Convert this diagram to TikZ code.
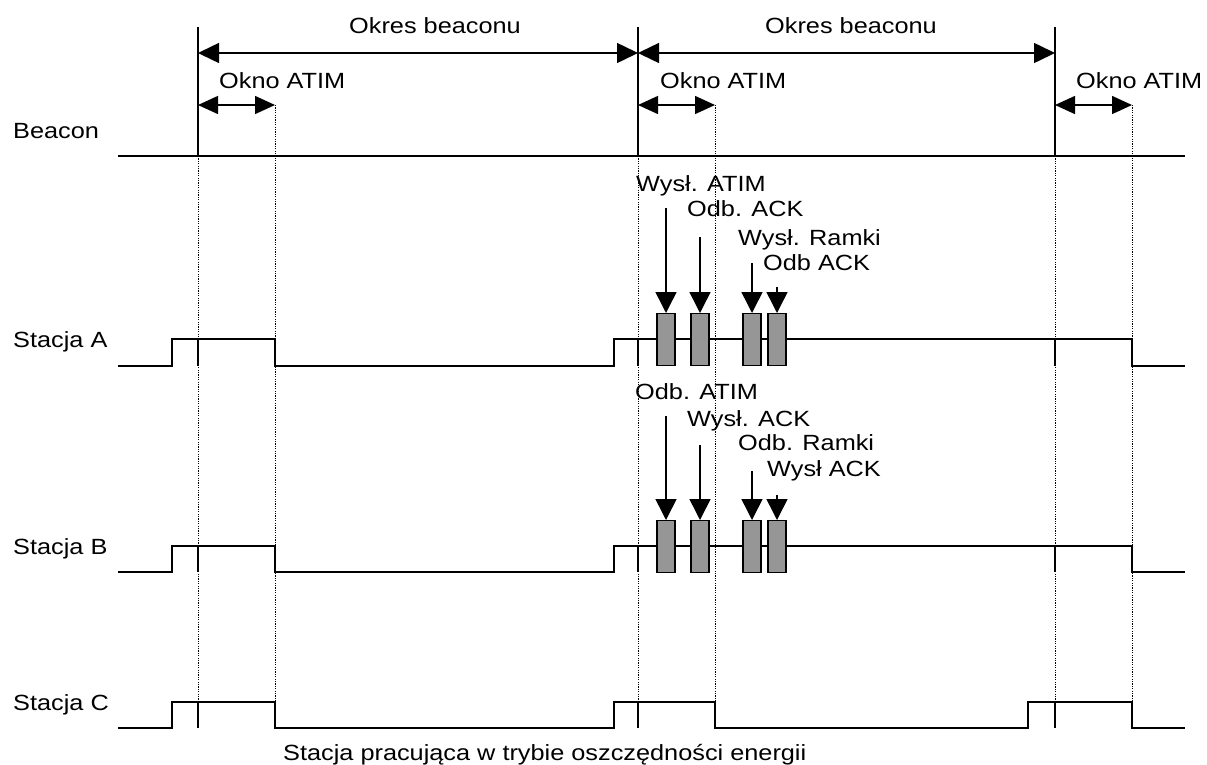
\documentclass[tikz,border=0pt]{standalone}
\usepackage{fontspec}
\setmainfont{Liberation Sans}[FakeStretch=1.15]
\usetikzlibrary{arrows.meta}
\definecolor{framegray}{RGB}{150,150,150}

\begin{document}
\begin{tikzpicture}[x=1pt, y=-1pt, font=\fontsize{22}{26}\selectfont]
        \tikzset{
            signal/.style={draw=black, line width=1.6pt},
            guide/.style={draw=black, line width=1pt, dash pattern=on 1.2pt off 1.2pt},
            beacontick/.style={draw=black, line width=2.2pt},
            period/.style={line width=1.5pt, {Triangle[length=21pt,width=20pt]}-{Triangle[length=21pt,width=20pt]}},
            atimwin/.style={line width=1.5pt, {Triangle[length=20pt,width=18pt]}-{Triangle[length=20pt,width=18pt]}},
            framebox/.style={draw=black, fill=framegray, line width=1.3pt, minimum width=18pt, minimum height=52pt, inner sep=0pt, anchor=north},
            framearrow/.style={line width=1.5pt, -{Triangle[length=21pt,width=21pt]}},
            labeltext/.style={anchor=base west, inner sep=0pt}
        }
        \useasboundingbox (0,0) rectangle (1207,764);

        % okresy beaconu
        \foreach \bx in {198,638,1055}
            \draw[signal] (\bx,27) -- (\bx,156);
        \draw[signal] (118,156) -- (1185,156);
        \coordinate (p1) at (198,53);
        \coordinate (p2) at (638,53);
        \coordinate (p3) at (1055,53);
        \draw[period] (p1) -- (p2);
        \draw[period] (p2) -- (p3);
        \node[labeltext] (okres1) at (349,33) {Okres beaconu};
        \node[labeltext] (okres2) at (765,33) {Okres beaconu};

        % okna ATIM
        \foreach \bx/\ex in {198/275,638/715,1055/1132}
            \draw[atimwin] (\bx,105) -- (\ex,105);
        \node[labeltext] (atim1) at (219,88) {Okno ATIM};
        \node[labeltext] (atim2) at (660,88) {Okno ATIM};
        \node[labeltext] (atim3) at (1076,88) {Okno ATIM};

        % linie pomocnicze
        \foreach \bx in {198,638,1055}
            \draw[guide] (\bx,156) -- (\bx,702);
        \foreach \ex in {275,715,1132}
            \draw[guide] (\ex,105) -- (\ex,702);

        % stacje
        \node[labeltext] (beacon) at (13,138) {Beacon};
        \node[labeltext] (stA) at (13,347) {Stacja A};
        \node[labeltext] (stB) at (13,554) {Stacja B};
        \node[labeltext] (stC) at (13,710) {Stacja C};
        \foreach \hi/\lo in {339/366,546/572}
            \draw[signal] (118,\lo) -- (172,\lo) -- (172,\hi) -- (275,\hi) -- (275,\lo)
                -- (614,\lo) -- (614,\hi) -- (1132,\hi) -- (1132,\lo) -- (1185,\lo);
        \draw[signal] (118,728) -- (172,728) -- (172,702) -- (275,702) -- (275,728)
            -- (614,728) -- (614,702) -- (715,702) -- (715,728) -- (1028,728)
            -- (1028,702) -- (1132,702) -- (1132,728) -- (1185,728);
        \foreach \hi/\lo in {339/366,546/572,702/728}
            \foreach \bx in {198,638,1055}
                \draw[beacontick] (\bx,\hi) -- (\bx,\lo);

        % ramki stacji A
        \node[framebox] (a1) at (666,313) {};
        \node[framebox] (a2) at (700,313) {};
        \node[framebox] (a3) at (752,313) {};
        \node[framebox] (a4) at (777,313) {};
        \coordinate (sa1) at (666,208);
        \coordinate (sa2) at (700,237);
        \coordinate (sa3) at (752,263);
        \coordinate (sa4) at (777,287);
        \foreach \i in {1,...,4}
            \draw[framearrow] (sa\i) -- (a\i.north);
        \node[labeltext] (la1) at (636,191) {Wysł. ATIM};
        \node[labeltext] (la2) at (687,216) {Odb. ACK};
        \node[labeltext] (la3) at (738,245) {Wysł. Ramki};
        \node[labeltext] (la4) at (763,270) {Odb ACK};

        % ramki stacji B
        \node[framebox] (b1) at (666,520) {};
        \node[framebox] (b2) at (700,520) {};
        \node[framebox] (b3) at (752,520) {};
        \node[framebox] (b4) at (777,520) {};
        \coordinate (sb1) at (666,416);
        \coordinate (sb2) at (700,445);
        \coordinate (sb3) at (752,471);
        \coordinate (sb4) at (777,495);
        \foreach \i in {1,...,4}
            \draw[framearrow] (sb\i) -- (b\i.north);
        \node[labeltext] (lb1) at (635,399) {Odb. ATIM};
        \node[labeltext] (lb2) at (687,426) {Wysł. ACK};
        \node[labeltext] (lb3) at (738,450) {Odb. Ramki};
        \node[labeltext] (lb4) at (767,476) {Wysł ACK};

        \node[labeltext] (opis) at (283,760) {Stacja pracująca w trybie oszczędności energii};
\end{tikzpicture}
\end{document}
